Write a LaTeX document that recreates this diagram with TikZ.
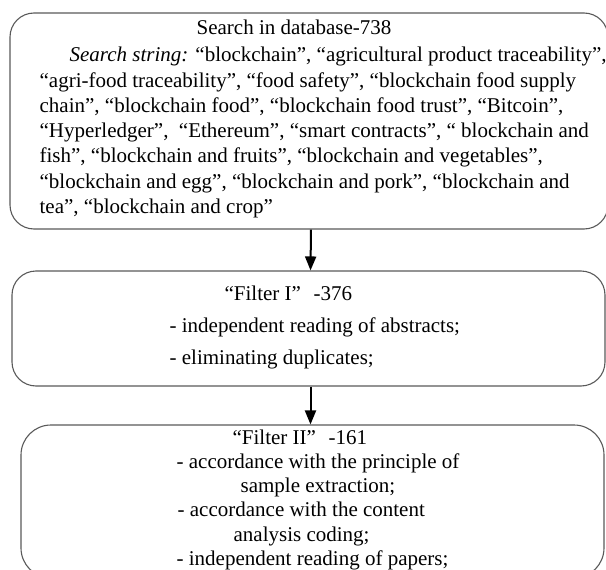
\documentclass[tikz,border=0pt]{standalone}
\usepackage{fontspec}
\setmainfont{Liberation Serif}
\usetikzlibrary{positioning,arrows.meta}

\begin{document}
\begin{tikzpicture}[x=1pt, y=-1pt,
				box/.style={draw=black!65, line width=1.1pt, rounded corners=24pt, inner sep=0pt},
				txt/.style={inner sep=0pt, align=left, font=\fontsize{21}{25.3}\selectfont},
				flow/.style={-{Triangle[width=11pt,length=14pt]}, line width=2pt}
			]
			\useasboundingbox (0,0) rectangle (606,570);
			\clip (0,0) rectangle (606,570);
			\node[box, minimum width=598pt, minimum height=216pt] (search) at (309,121) {};
			\node[box, minimum width=593pt, minimum height=115pt] (filterone) at (308.5,328.5) {};
			\node[box, rounded corners=30pt, minimum width=583pt, minimum height=153pt] (filtertwo) at (312.5,501.5) {};
			\node[txt] (searchtitle) [below right=7.5pt and 187pt of search.north west] {Search in database-738};
			\node[txt] (searchbody) [below right=34.5pt and 30pt of search.north west] {\hspace*{30pt}\textit{Search string:} “blockchain”, “agricultural product traceability”,\\
				“agri-food traceability”, “food safety”, “blockchain food supply\\
				chain”, “blockchain food”, “blockchain food trust”, “Bitcoin”,\\
				“Hyperledger”,\ \ “Ethereum”, “smart contracts”, “ blockchain and\\
				fish”, “blockchain and fruits”, “blockchain and vegetables”,\\
				“blockchain and egg”, “blockchain and pork”, “blockchain and\\
				tea”, “blockchain and crop”};
			\node[txt] (filteronetitle) [below right=14.8pt and 213pt of filterone.north west] {“Filter I”\hspace{0.6em}-376};
			\node[txt, font=\fontsize{21}{32}\selectfont] (filteronebody) [below right=46.7pt and 158pt of filterone.north west] {- independent reading of abstracts;\\
				- eliminating duplicates;};
			\node[txt] (filtertwotitle) [below right=4.8pt and 212pt of filtertwo.north west] {“Filter II”\hspace{0.6em}-161};
			\node[txt, font=\fontsize{21}{24.2}\selectfont] (filtertwobody) [below right=29pt and 156pt of filtertwo.north west] {- accordance with the principle of\\
				\hspace*{64pt}sample extraction;\\
				\hspace*{1pt}- accordance with the content\\
				\hspace*{57pt}analysis coding;\\
				- independent reading of papers;};
			\draw[flow] ([xshift=2pt]search.south) -- ([xshift=2pt]filterone.north);
			\draw[flow] ([xshift=2pt]filterone.south) -- ([xshift=2pt]filtertwo.north -| filterone.south);
\end{tikzpicture}
\end{document}
